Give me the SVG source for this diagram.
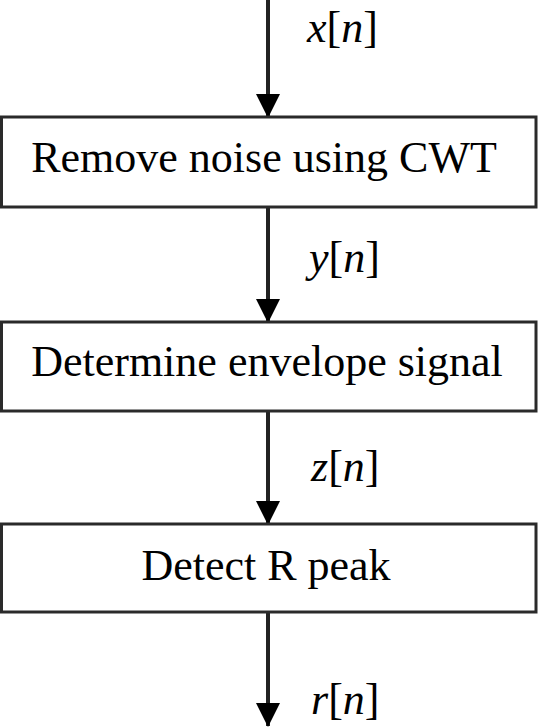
<svg xmlns="http://www.w3.org/2000/svg" width="538" height="728" viewBox="0 0 538 728">
<style>
.box{fill:#fff;stroke:#2a2a2a;stroke-width:3}
.t{font-family:"Liberation Serif","Times New Roman",serif;font-size:44px;fill:#000}
.lbl{font-family:"Liberation Serif","Times New Roman",serif;font-size:44px;fill:#000}
.i{font-style:italic}
.conn{stroke:#222;stroke-width:4;fill:none;marker-end:url(#ah)}
</style>
<defs>
<marker id="ah" markerUnits="userSpaceOnUse" markerWidth="24" markerHeight="24" refX="23" refY="12" orient="auto">
<path d="M0,0 L24,12 L0,24 z" fill="#000"/>
</marker>
</defs>
<rect width="538" height="728" fill="#fff"/>
<g id="connectors">
<line class="conn" x1="268" y1="0" x2="268" y2="117"/>
<line class="conn" x1="268" y1="207" x2="268" y2="322"/>
<line class="conn" x1="268" y1="411" x2="268" y2="524"/>
<line class="conn" x1="268" y1="612" x2="268" y2="726"/>
</g>
<g id="node1">
<rect class="box" x="1.5" y="117" width="534.5" height="90"/>
<text class="t" x="264" y="172" text-anchor="middle">Remove noise using CWT</text>
</g>
<g id="node2">
<rect class="box" x="1.5" y="322" width="534.5" height="89"/>
<text class="t" x="267" y="376" text-anchor="middle">Determine envelope signal</text>
</g>
<g id="node3">
<rect class="box" x="1.5" y="524" width="534.5" height="88"/>
<text class="t" x="266" y="580" text-anchor="middle">Detect R peak</text>
</g>
<g id="labels">
<text class="lbl" x="307" y="42"><tspan class="i">x</tspan>[<tspan class="i">n</tspan>]</text>
<text class="lbl" x="309" y="272"><tspan class="i">y</tspan>[<tspan class="i">n</tspan>]</text>
<text class="lbl" x="311" y="481"><tspan class="i">z</tspan>[<tspan class="i">n</tspan>]</text>
<text class="lbl" x="311" y="714"><tspan class="i">r</tspan>[<tspan class="i">n</tspan>]</text>
</g>
</svg>
